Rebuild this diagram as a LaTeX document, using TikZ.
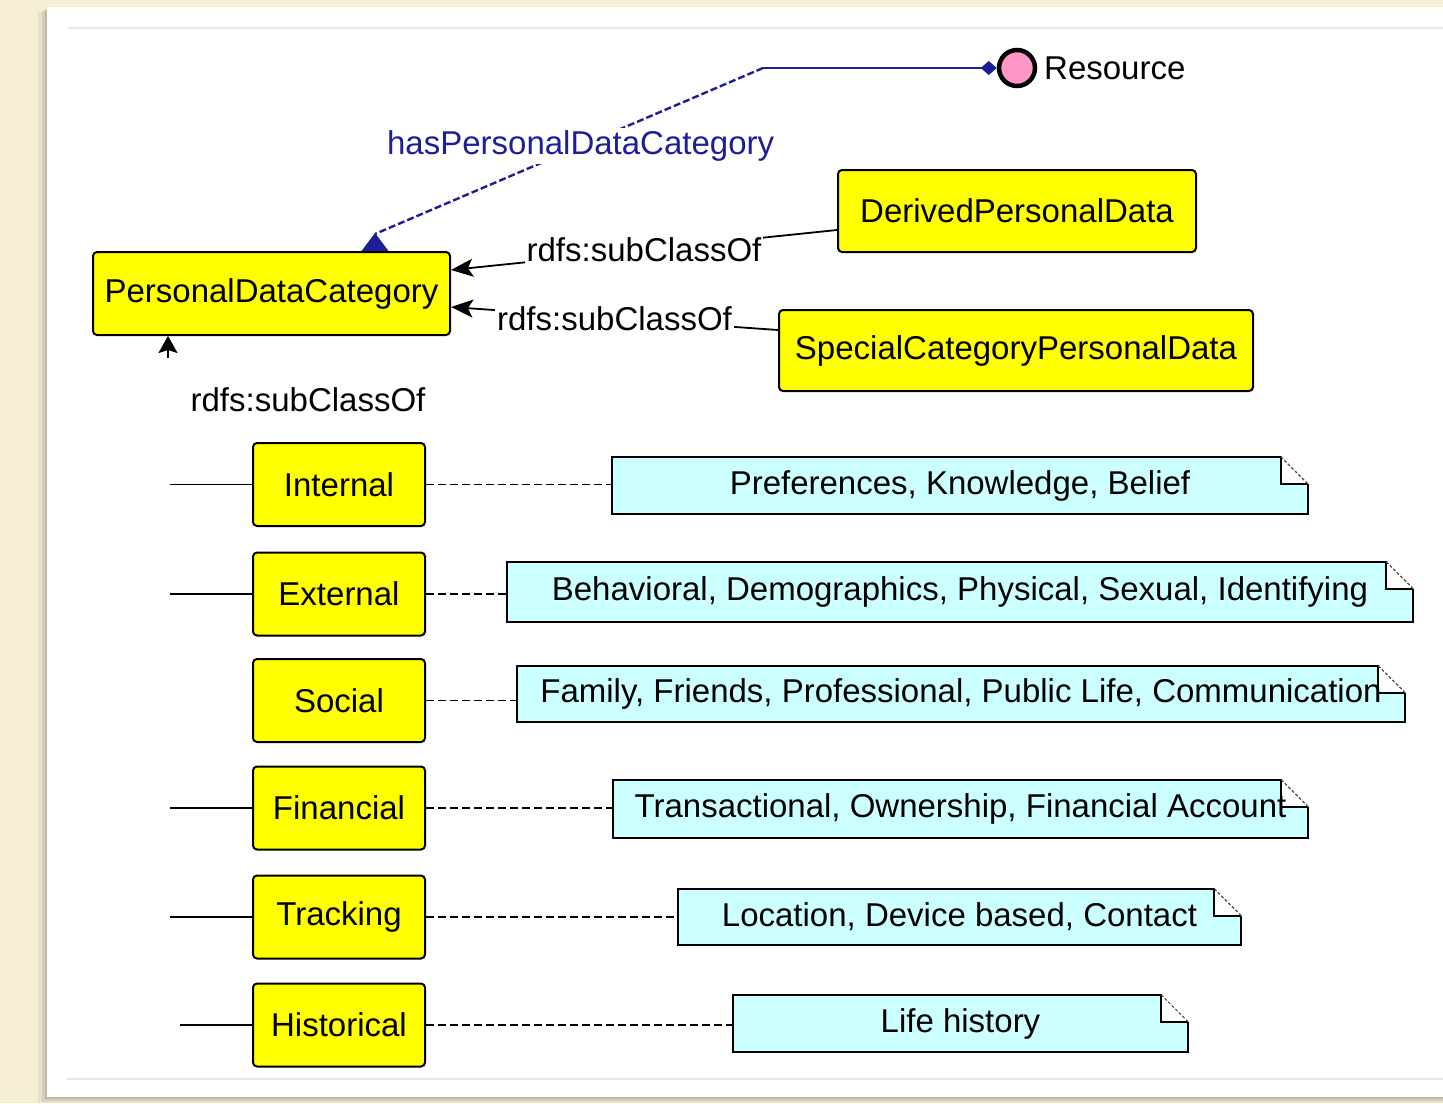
\documentclass[tikz,border=0pt]{standalone}
\usepackage{fontspec}
\setmainfont{Liberation Sans}
\usetikzlibrary{arrows.meta,calc}
\definecolor{beige}{RGB}{246,238,212}
\definecolor{clsyellow}{RGB}{255,255,0}
\definecolor{notecyan}{RGB}{204,255,255}
\definecolor{respink}{RGB}{255,150,200}
\definecolor{navyline}{RGB}{30,30,150}
\definecolor{framegray}{RGB}{232,232,232}
\pgfdeclarelayer{bg}
\pgfdeclarelayer{background}
\pgfsetlayers{bg,background,main}
\newcommand\lbl{\fontsize{33}{38}\selectfont}
\newcommand\notefold[1]{%
  \fill[notecyan] (#1.north west) -- ([xshift=-27pt]#1.north east) -- ([xshift=-27pt,yshift=-27pt]#1.north east) -- ([yshift=-27pt]#1.north east) -- (#1.south east) -- (#1.south west) -- cycle;
  \draw[noteline] ([yshift=-27pt]#1.north east) -- (#1.south east) -- (#1.south west) -- (#1.north west) -- ([xshift=-27pt]#1.north east) -- ([xshift=-27pt,yshift=-27pt]#1.north east) -- ([yshift=-27pt]#1.north east);
  \draw[foldline] ([xshift=-27pt]#1.north east) -- ([yshift=-27pt]#1.north east);
}
\begin{document}
\begin{tikzpicture}[x=1pt,y=-1pt,
  cls/.style={draw=black, line width=2pt, fill=clsyellow, rounded corners=4pt, inner sep=0pt, font=\lbl, text=black},
  note/.style={inner sep=0pt, font=\lbl, text=black},
  noteline/.style={line width=1.8pt, black},
  foldline/.style={line width=1.2pt, black!70, dash pattern=on 3pt off 2pt},
  conn/.style={line width=1.8pt, black},
  dashconn/.style={line width=1.6pt, black, dash pattern=on 8pt off 4pt},
  sublbl/.style={font=\lbl, fill=white, inner sep=2pt, text=black},
  subarrow/.style={-{Stealth[length=22pt,width=18pt,inset=5pt]}},
  navyedge/.style={navyline, line width=2.4pt},
]
\useasboundingbox (0,0) rectangle (1443,1103);
\begin{pgfonlayer}{bg}
  \fill[beige] (0,0) rectangle (1443,1103);
  \fill[black, opacity=0.06] (38,12) rectangle (1443,1103);
  \fill[black, opacity=0.08] (42,10) rectangle (1443,1101);
  \fill[black, opacity=0.10] (45,9) rectangle (1443,1099);
  \fill[white] (47,7) rectangle (1443,1097);
  \draw[framegray, line width=1.2pt] (68,28) -- (1443,28);
  \draw[framegray, line width=1.2pt] (67,1079) -- (1443,1079);
\end{pgfonlayer}

% classes
\node[cls, minimum width=357pt, minimum height=83pt] (pdc) at (271.5,293.5) {PersonalDataCategory};
\node[cls, minimum width=358pt, minimum height=82pt] (der) at (1017,211) {DerivedPersonalData};
\node[cls, minimum width=474pt, minimum height=81pt] (spc) at (1016,350.5) {SpecialCategoryPersonalData};

\node[cls, minimum width=172pt, minimum height=83pt] (cInt) at (339,484.5) {Internal};
\node[cls, minimum width=172pt, minimum height=83pt] (cExt) at (339,594) {External};
\node[cls, minimum width=172pt, minimum height=83pt] (cSoc) at (339,700.5) {Social};
\node[cls, minimum width=172pt, minimum height=83pt] (cFin) at (339,808) {Financial};
\node[cls, minimum width=172pt, minimum height=83pt] (cTrk) at (339,917) {Tracking};
\node[cls, minimum width=172pt, minimum height=83pt] (cHis) at (339,1025) {Historical};

% notes
\node[note, minimum width=695pt, minimum height=57pt] (nInt) at (960,485.5) {Preferences, Knowledge, Belief};
\node[note, minimum width=906pt, minimum height=60pt] (nExt) at (960,592) {Behavioral, Demographics, Physical, Sexual, Identifying};
\node[note, minimum width=888pt, minimum height=56pt] (nSoc) at (961,694) {Family, Friends, Professional, Public Life, Communication};
\node[note, minimum width=695pt, minimum height=58pt] (nFin) at (960.5,809) {Transactional, Ownership, Financial Account};
\node[note, minimum width=563pt, minimum height=56pt] (nTrk) at (959.5,917) {Location, Device based, Contact};
\node[note, minimum width=455pt, minimum height=57pt] (nHis) at (960.5,1023.5) {Life history};

\begin{pgfonlayer}{background}
  \notefold{nInt}
  \notefold{nExt}
  \notefold{nSoc}
  \notefold{nFin}
  \notefold{nTrk}
  \notefold{nHis}
\end{pgfonlayer}

% resource
\node[circle, draw=black, line width=4.5pt, fill=respink, minimum size=36pt, inner sep=0pt] (res) at (1017,68) {};
\node[font=\lbl, anchor=west, inner sep=0pt] (resl) at (1044,68) {Resource};

% hasPersonalDataCategory
\coordinate (bend) at (763,68);
\draw[navyedge, line width=2.8pt, {Diamond[length=16pt,width=14pt]}-] (res.west) -- (bend);
\draw[navyedge, dash pattern=on 7pt off 3pt] (bend) -- node[pos=0.47, fill=white, font=\lbl, text=navyline, inner sep=3pt] (hl) {hasPersonalDataCategory} ([xshift=103.5pt,yshift=17pt]pdc.north);
\fill[navyline] ([xshift=103.5pt,yshift=18pt]pdc.north) -- ([xshift=90pt]pdc.north) -- ([xshift=117pt]pdc.north) -- cycle;

% subclass edges
\draw[conn, subarrow] ([yshift=-19pt]der.west) -- node[sublbl, pos=0.5] (ls1) {rdfs:subClassOf} ([yshift=23.5pt]pdc.east);
\draw[conn, subarrow] ([yshift=20.5pt]spc.west) -- node[sublbl, pos=0.5] (ls2) {rdfs:subClassOf} ([yshift=-13.5pt]pdc.east);

\coordinate (trunk) at (168,358);
\draw[conn, -{Stealth[length=17pt,width=19pt,inset=3pt]}] (trunk) -- ([xshift=-103.5pt]pdc.south);
\node[font=\lbl, inner sep=0pt] (lsub) at (308,400) {rdfs:subClassOf};

% stubs to categories
\coordinate (sInt) at (170,484.5);
\coordinate (sExt) at (170,594);
\coordinate (sFin) at (170,808);
\coordinate (sTrk) at (170,917);
\coordinate (sHis) at (180,1025);
\draw[conn] (sInt) -- (cInt);
\draw[conn] (sExt) -- (cExt);
\draw[conn] (sFin) -- (cFin);
\draw[conn] (sTrk) -- (cTrk);
\draw[conn] (sHis) -- (cHis);

% dashed note links
\draw[dashconn] (cInt.east) -- (cInt.east -| nInt.west);
\draw[dashconn] (cExt.east) -- (cExt.east -| nExt.west);
\draw[dashconn] (cSoc.east) -- (cSoc.east -| nSoc.west);
\draw[dashconn] (cFin.east) -- (cFin.east -| nFin.west);
\draw[dashconn] (cTrk.east) -- (cTrk.east -| nTrk.west);
\draw[dashconn] (cHis.east) -- (cHis.east -| nHis.west);
\end{tikzpicture}
\end{document}
